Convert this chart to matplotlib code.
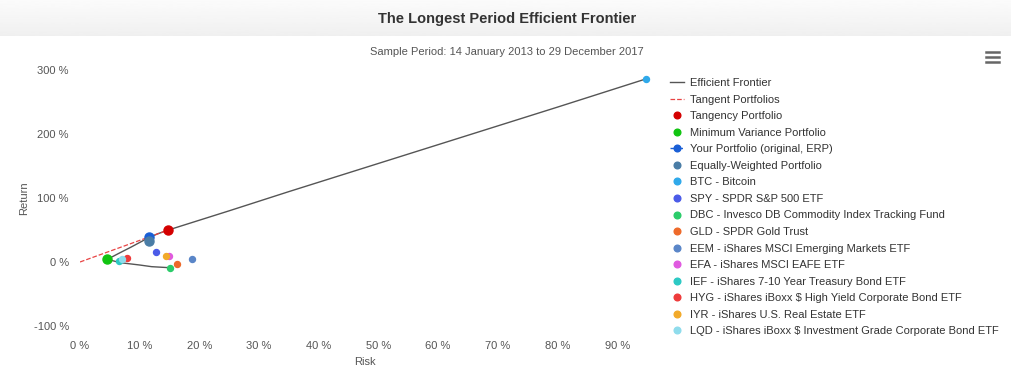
import numpy as np
import matplotlib.pyplot as plt
from matplotlib.lines import Line2D
from matplotlib.ticker import FuncFormatter

plt.rcParams['font.family'] = ['Liberation Sans', 'DejaVu Sans']

# frontier (risk %, return %)
frontier_risk = [15.0, 12.0, 10.0, 6.7, 4.6, 6.5, 8.5, 10.5, 11.6, 13.0, 14.8, 25, 35, 50, 65, 80, 94.8]
frontier_ret = [-8.9, -7.3, -4.7, -1.0, 4.2, 13.5, 23, 33, 38.5, 44, 50, 80, 110, 154, 198, 242, 286]
tangent_risk = [0.0, 14.8]
tangent_ret = [0.0, 50.0]

portfolios = ["Tangency Portfolio", "Minimum Variance Portfolio",
              "Your Portfolio (original, ERP)", "Equally-Weighted Portfolio"]
port_risk = [14.8, 4.6, 11.6, 11.6]
port_ret = [50.0, 4.2, 39.5, 33.0]
port_colors = ["#d40000", "#11c411", "#1a5fd6", "#4a7da6"]

assets = ["BTC - Bitcoin", "SPY - SPDR S&P 500 ETF",
          "DBC - Invesco DB Commodity Index Tracking Fund", "GLD - SPDR Gold Trust",
          "EEM - iShares MSCI Emerging Markets ETF", "EFA - iShares MSCI EAFE ETF",
          "IEF - iShares 7-10 Year Treasury Bond ETF",
          "HYG - iShares iBoxx $ High Yield Corporate Bond ETF",
          "IYR - iShares U.S. Real Estate ETF",
          "LQD - iShares iBoxx $ Investment Grade Corporate Bond ETF"]
asset_risk = [94.8, 12.7, 15.0, 16.3, 18.8, 14.9, 6.6, 7.9, 14.4, 7.1]
asset_ret = [286.0, 16.0, -8.9, -3.6, 4.7, 9.4, 2.0, 5.8, 10.0, 4.2]
asset_colors = ["#2fa9ea", "#4b5be8", "#2bcc6a", "#ee6a2a", "#5a86c8", "#e05ae0",
                "#2cc9c4", "#ee3b3b", "#f2aa2a", "#8fdcec"]

W, H = 1012, 377
fig = plt.figure(figsize=(W / 100, H / 100), dpi=100)

# title band
band = fig.add_axes([0, 1 - 36 / H, 1, 36 / H])
grad = np.linspace(0.985, 0.94, 50).reshape(-1, 1)
band.imshow(grad, aspect='auto', cmap='gray', vmin=0, vmax=1, extent=[0, 1, 0, 1])
band.axis('off')
fig.text(507 / W, 1 - 19 / H, "The Longest Period Efficient Frontier", ha='center', va='center',
         fontsize=10.5, fontweight='bold', color='#333333')
fig.text(507 / W, 1 - 52 / H, "Sample Period: 14 January 2013 to 29 December 2017", ha='center',
         va='center', fontsize=8, color='#555555')

# hamburger icon
for yy in [52, 57, 62]:
    fig.add_artist(Line2D([986 / W, 999 / W], [1 - yy / H, 1 - yy / H], color='#666666', lw=1.8,
                          transform=fig.transFigure))

ax = fig.add_axes([80 / W, 51 / H, 570 / W, 256 / H])
ax.plot(frontier_risk, frontier_ret, color='#555555', lw=1, label="Efficient Frontier", zorder=2)
ax.plot(tangent_risk, tangent_ret, color='#e84444', lw=0.9, ls='--', label="Tangent Portfolios", zorder=2)
for name, r, m, c in zip(portfolios, port_risk, port_ret, port_colors):
    ls = '--' if name.startswith("Your") else 'none'
    ax.plot([r], [m], marker='o', ms=6.5, color=c, ls=ls, lw=1, label=name, zorder=4)
for name, r, m, c in zip(assets, asset_risk, asset_ret, asset_colors):
    ax.plot([r], [m], marker='o', ms=4.3, color=c, ls='none', label=name, zorder=3, clip_on=False)

ax.set_xlim(0, 95.5)
ax.set_ylim(-100, 300)
ax.set_xticks(np.arange(0, 91, 10))
ax.set_yticks([-100, 0, 100, 200, 300])
ax.xaxis.set_major_formatter(FuncFormatter(lambda v, p: "%d %%" % v))
ax.yaxis.set_major_formatter(FuncFormatter(lambda v, p: "%d %%" % v))
ax.tick_params(length=0, labelsize=8, colors='#555555')
ax.tick_params(axis='x', pad=11)
ax.tick_params(axis='y', pad=8)
for s in ax.spines.values():
    s.set_visible(False)
ax.set_xlabel("Risk", fontsize=8, color='#555555', labelpad=4)
ax.set_ylabel("Return", fontsize=8, color='#555555', labelpad=3)

leg = ax.legend(loc='upper left', bbox_to_anchor=(670 / W, 1 - 78 / H), bbox_transform=fig.transFigure,
                frameon=False, fontsize=8, labelcolor='#333333', handlelength=1.3, handletextpad=0.5,
                labelspacing=0.59, borderpad=0, borderaxespad=0)
for h in leg.legend_handles:
    h.set_markersize(4.8)

fig.savefig("out.png", dpi=100)
